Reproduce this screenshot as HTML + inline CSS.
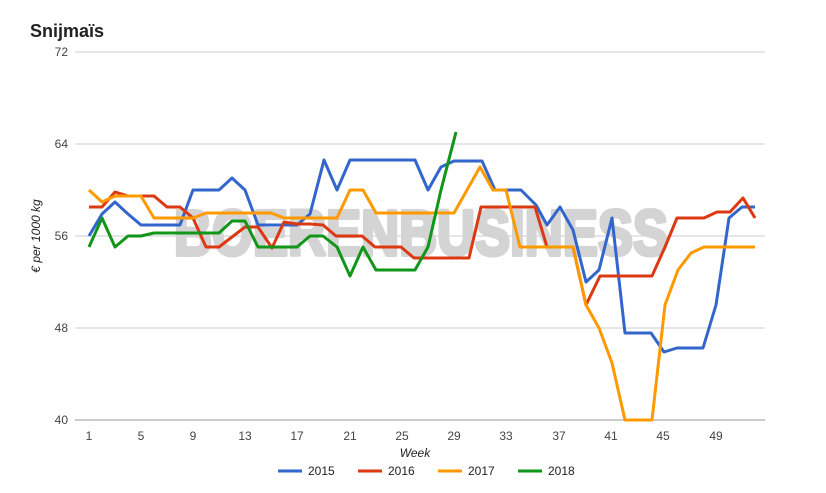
<!DOCTYPE html>
<html><head><meta charset="utf-8"><style>
body{margin:0;background:#fff;}
svg{display:block;font-family:"Liberation Sans",sans-serif;}
</style></head><body>
<svg width="826" height="493" viewBox="0 0 826 493">
<text x="30" y="37" font-size="18" font-weight="bold" fill="#222">Snijmaïs</text>
<g stroke="#cccccc" stroke-width="1">
<line x1="75" y1="52" x2="765" y2="52"/><line x1="75" y1="144" x2="765" y2="144"/>
<line x1="75" y1="236" x2="765" y2="236"/><line x1="75" y1="328" x2="765" y2="328"/>
<line x1="75" y1="420" x2="765" y2="420" stroke="#999"/>
</g>
<text x="421" y="255" font-size="64" font-weight="bold" fill="#d4d4d4" stroke="#d4d4d4" stroke-width="4" stroke-linejoin="round" text-anchor="middle" textLength="494" lengthAdjust="spacingAndGlyphs">BOERENBUSINESS</text>
<g font-size="12" fill="#444" text-anchor="end">
<text x="68" y="56">72</text><text x="68" y="148">64</text><text x="68" y="240">56</text><text x="68" y="332">48</text><text x="68" y="424">40</text>
</g>
<g font-size="12" fill="#444" text-anchor="middle">
<text x="89" y="440">1</text><text x="141" y="440">5</text><text x="193" y="440">9</text><text x="245" y="440">13</text><text x="297" y="440">17</text><text x="350" y="440">21</text><text x="402" y="440">25</text><text x="454" y="440">29</text><text x="506" y="440">33</text><text x="559" y="440">37</text><text x="611" y="440">41</text><text x="663" y="440">45</text><text x="716" y="440">49</text>
</g>
<text x="415" y="457" font-size="12" font-style="italic" fill="#222" text-anchor="middle">Week</text>
<text transform="translate(40,236) rotate(-90)" font-size="12" font-style="italic" fill="#222" text-anchor="middle">€ per 1000 kg</text>
<g fill="none" stroke-width="3" stroke-linejoin="round">
<polyline stroke="#3366cc" points="89,236 102,214 115,202 128,214 141,225 154,225 167,225 180,225 193,190 206,190 219,190 232,178 245,190 258,225 271,225 284,225 297,225 310,214 324,160 337,190 350,160 363,160 376,160 389,160 402,160 415,160 428,190 441,167 454,161 467,161 482,161 495,190 508,190 521,190 536,205 547,225 560,207 573,230 586,282 599,270 612,218 625,333 638,333 651,333 664,352 677,348 690,348 703,348 716,305 729,218 742,207 755,207"/>
<polyline stroke="#dc3912" points="89,207 102,207 115,192 128,196 141,196 154,196 167,207 180,207 193,218 206,247 219,247 232,237 245,227 258,227 272,248 284,222 297,224 310,224 323,225 336,236 349,236 362,236 375,247 388,247 401,247 414,258 427,258 440,258 454,258 469,258 481,207 494,207 507,207 520,207 535,207 547,247 560,247 573,247 586,305 600,276 613,276 626,276 639,276 652,276 665,247 677,218 690,218 704,218 717,212 730,212 743,198 755,218"/>
<polyline stroke="#ff9900" points="89,190 102,202 115,196 128,196 141,196 154,218 167,218 180,218 193,218 206,213 219,213 232,213 245,213 258,213 271,213 284,218 297,218 310,218 323,218 337,218 350,190 363,190 376,213 389,213 402,213 415,213 428,213 441,213 454,213 467,190 480,167 493,190 506,190 520,247 533,247 546,247 559,247 573,247 586,305 599,328 612,363 625,420 638,420 652,420 665,305 678,270 691,253 704,247 717,247 730,247 743,247 755,247"/>
<polyline stroke="#109618" points="89,247 102,218 115,247 128,236 141,236 154,233 167,233 180,233 193,233 206,233 219,233 232,221 245,221 258,247 271,247 284,247 297,247 310,236 323,236 337,247 350,276 363,247 376,270 389,270 402,270 415,270 428,247 441,190 456,132"/>
</g>
<g font-size="12" fill="#222">
<line x1="278" y1="471" x2="302" y2="471" stroke="#3366cc" stroke-width="3"/><text x="308" y="475">2015</text>
<line x1="358" y1="471" x2="382" y2="471" stroke="#dc3912" stroke-width="3"/><text x="388" y="475">2016</text>
<line x1="438" y1="471" x2="462" y2="471" stroke="#ff9900" stroke-width="3"/><text x="468" y="475">2017</text>
<line x1="518" y1="471" x2="542" y2="471" stroke="#109618" stroke-width="3"/><text x="548" y="475">2018</text>
</g>
</svg>
</body></html>
